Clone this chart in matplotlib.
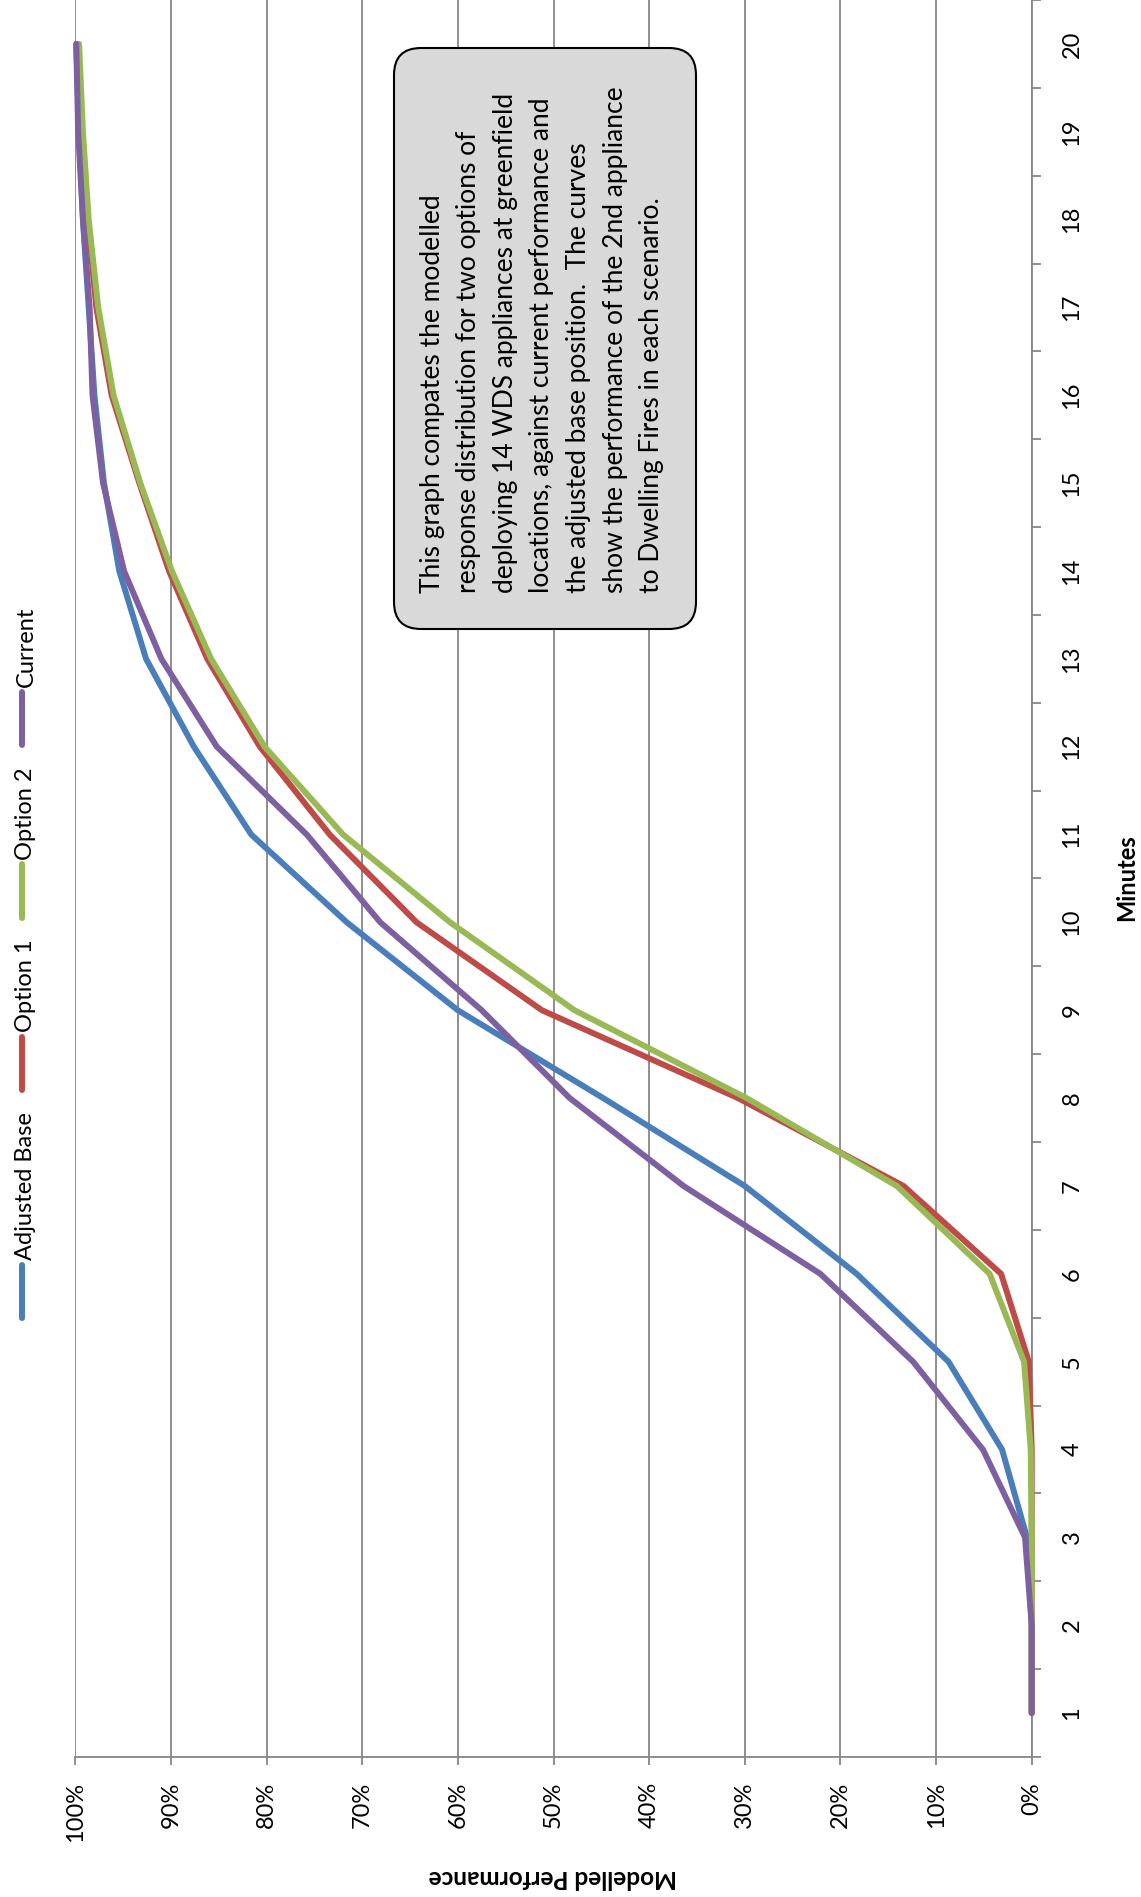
import numpy as np
import matplotlib
matplotlib.use("Agg")
import matplotlib.pyplot as plt
from matplotlib.patches import FancyBboxPatch
from matplotlib.lines import Line2D
from matplotlib.ticker import FixedLocator, PercentFormatter, NullFormatter
from matplotlib.transforms import IdentityTransform

plt.rcParams['font.family'] = ['Lato', 'DejaVu Sans']

# modelled performance (%) of the 2nd appliance at each minute
minutes = list(range(1, 21))
adjusted_base = [0, 0, 0.5, 3.1, 8.7, 18.3, 30.0, 44.8, 60.0, 71.6,
                 81.6, 87.6, 92.6, 95.4, 97.0, 98.0, 98.6, 99.2, 99.6, 99.9]
option_1 = [0, 0, 0, 0, 0.3, 3.2, 13.4, 30.7, 51.2, 64.3,
            73.4, 80.7, 86.2, 90.2, 93.3, 96.2, 97.8, 98.7, 99.3, 99.7]
option_2 = [0, 0, 0, 0.1, 0.8, 4.4, 14.1, 29.8, 47.8, 60.8,
            72.0, 80.2, 85.8, 89.9, 93.2, 96.0, 97.6, 98.6, 99.2, 99.6]
current = [0, 0, 0.7, 5.1, 12.4, 22.1, 36.4, 48.3, 57.5, 68.1,
           75.8, 85.2, 91.0, 94.9, 97.1, 98.2, 98.5, 99.2, 99.7, 99.9]

series_names = ["Adjusted Base", "Option 1", "Option 2", "Current"]
series_values = [adjusted_base, option_1, option_2, current]
series_colors = ["#4A7EBB", "#BE4B48", "#98B954", "#7D60A0"]

pct_ticks = [0, 10, 20, 30, 40, 50, 60, 70, 80, 90, 100]

note = ("This graph compates the modelled\n"
        "response distribution for two options of\n"
        "deploying 14 WDS appliances at greenfield\n"
        "locations, against current performance and\n"
        "the adjusted base position.  The curves\n"
        "show the performance of the 2nd appliance\n"
        "to Dwelling Fires in each scenario.")

W, H = 1141, 1897
GRID = '#868686'
fig = plt.figure(figsize=(W / 100, H / 100), dpi=100)

# whole chart is laid out turned on its side: minutes run up, % runs right-to-left
ax_l, ax_r, ax_b = 75.3, 1031.7, 1757
ax = fig.add_axes([ax_l / W, 1 - ax_b / H, (ax_r - ax_l) / W, ax_b / H])

lines = []
for name, vals, col in zip(series_names, series_values, series_colors):
    ln, = ax.plot(vals, minutes, color=col, lw=4.3, label=name,
                  solid_joinstyle='round', solid_capstyle='round', clip_on=False, zorder=3)
    lines.append(ln)

ax.set_xlim(100, 0)
ax.set_ylim(0.5, 20.5)

ax.xaxis.set_major_locator(FixedLocator(pct_ticks))
ax.xaxis.set_major_formatter(PercentFormatter(decimals=0))
ax.grid(True, axis='x', color=GRID, lw=1.3)
ax.tick_params(axis='x', direction='out', length=6, width=1.3, color=GRID,
               pad=12, labelsize=17, labelrotation=90)

ax.yaxis.tick_right()
ax.yaxis.set_major_locator(FixedLocator(np.arange(0.5, 21, 1)))
ax.yaxis.set_major_formatter(NullFormatter())
ax.yaxis.set_minor_locator(FixedLocator(minutes))
ax.yaxis.set_minor_formatter(matplotlib.ticker.FuncFormatter(lambda v, p: f"{int(v)}"))
ax.tick_params(axis='y', which='major', direction='out', length=6.5, width=1.3, color=GRID)
ax.tick_params(axis='y', which='minor', length=0, pad=29, labelsize=17, labelrotation=90)
for lbl in ax.get_yticklabels(minor=True):
    lbl.set_ha('center')
    lbl.set_va('center')

for side in ['top', 'left']:
    ax.spines[side].set_visible(False)
for side in ['bottom', 'right']:
    ax.spines[side].set_color(GRID)
    ax.spines[side].set_linewidth(1.3)

# axis titles
fig.text(1127 / W, 1 - 878 / H, "Minutes", rotation=90, fontsize=17,
         fontweight='bold', ha='center', va='center')
fig.text(553 / W, 1 - 1877 / H, "Modelled Performance", rotation=180, fontsize=17.5,
         fontweight='bold', ha='center', va='center')

# legend down the left edge, entries read bottom-to-top
renderer = fig.canvas.get_renderer()
y = 1318
for ln in lines:
    fig.add_artist(Line2D([21.7 / W, 21.7 / W], [1 - y / H, 1 - (y - 53) / H],
                          transform=fig.transFigure, color=ln.get_color(), lw=4.3,
                          solid_capstyle='round'))
    y -= 58
    t = fig.text(26 / W, 1 - y / H, ln.get_label(), rotation=90, fontsize=17,
                 ha='center', va='bottom')
    y -= t.get_window_extent(renderer).height + 22

# note box
box = FancyBboxPatch((394, H - 629), 302, 581, boxstyle="round,pad=0,rounding_size=27",
                     transform=IdentityTransform(), fc='#D9D9D9', ec='black', lw=1.5,
                     zorder=5)
fig.add_artist(box)
fig.text(542 / W, 1 - 593 / H, note, rotation=90, fontsize=19, ha='center', va='bottom',
         multialignment='left', linespacing=1.58, zorder=6)

fig.savefig("out.png", dpi=100)
